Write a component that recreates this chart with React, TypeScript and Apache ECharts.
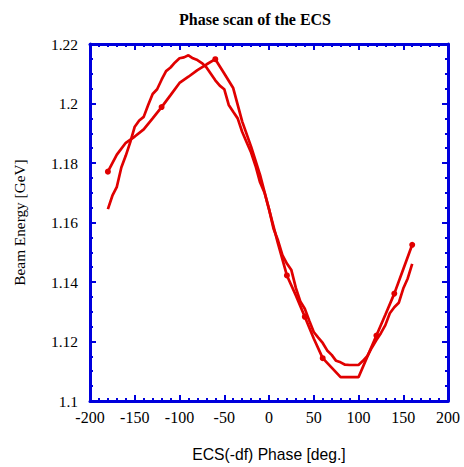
import React, { useEffect, useRef } from "react";
import * as echarts from "echarts";

const titleText = "Phase scan of the ECS";
const xName = "ECS(-df) Phase [deg.]";
const yName = "Beam Energy [GeV]";

// Scan A (smoother, with dots)
const phaseA = [-180, -170, -160, -150, -140, -130, -120, -110, -100, -90, -80, -70, -60, -50, -40, -30, -20, -10, 0, 10, 20, 30, 40, 50, 60, 70, 80, 90, 100, 110, 120, 130, 140, 150, 160];
const energyA = [1.1771, 1.1828, 1.1868, 1.1889, 1.1913, 1.195, 1.1988, 1.2028, 1.2069, 1.209, 1.2112, 1.2131, 1.2149, 1.2101, 1.2052, 1.194, 1.1855, 1.176, 1.1645, 1.153, 1.1422, 1.1355, 1.1283, 1.121, 1.1144, 1.1112, 1.108, 1.108, 1.108, 1.115, 1.122, 1.129, 1.1361, 1.1443, 1.1525];
const markedPhases = [-180, -120, -60, 20, 40, 60, 120, 140, 160];

// Scan B (finer steps)
const phaseB = [-180, -175, -170, -165, -160, -155, -150, -145, -140, -135, -130, -125, -120, -115, -110, -105, -100, -95, -90, -85, -80, -75, -70, -65, -60, -55, -50, -45, -40, -35, -30, -25, -20, -15, -10, -5, 0, 5, 10, 15, 20, 25, 30, 35, 40, 45, 50, 55, 60, 65, 70, 75, 80, 85, 90, 95, 100, 105, 110, 115, 120, 125, 130, 135, 140, 145, 150, 155, 160];
const energyB = [1.1645, 1.169, 1.172, 1.1785, 1.1825, 1.187, 1.1922, 1.1943, 1.1955, 1.1995, 1.2032, 1.2048, 1.208, 1.2109, 1.2121, 1.2138, 1.2152, 1.2155, 1.2162, 1.2152, 1.2146, 1.2136, 1.2122, 1.21, 1.2078, 1.206, 1.2048, 1.1995, 1.1972, 1.195, 1.1905, 1.187, 1.1835, 1.179, 1.1735, 1.17, 1.1645, 1.158, 1.154, 1.149, 1.1462, 1.144, 1.138, 1.1335, 1.131, 1.127, 1.1232, 1.1213, 1.1195, 1.117, 1.1155, 1.1135, 1.113, 1.1122, 1.1121, 1.1121, 1.1121, 1.1135, 1.1152, 1.118, 1.1205, 1.1228, 1.1255, 1.1295, 1.1315, 1.133, 1.1378, 1.1412, 1.1461];

const BLUE = "#0000dd";
const RED = "#e00000";
const SERIF = "'Liberation Serif', 'Times New Roman', serif";
const SANS = "'Liberation Sans', Arial, sans-serif";

export default function App() {
  const ref = useRef<HTMLDivElement>(null);
  useEffect(() => {
    if (!ref.current) return;
    const chart = echarts.init(ref.current, null, { renderer: "svg" });
    const axisCommon = {
      axisLine: { show: true, onZero: false, lineStyle: { color: BLUE, width: 3 } },
      axisTick: { show: true, inside: true, length: 6, lineStyle: { color: BLUE, width: 2 } },
      minorTick: { show: true, length: 3, lineStyle: { color: BLUE, width: 2 } },
      splitLine: { show: false },
    };
    const fmtY = (v: number) => String(+v.toFixed(2));
    chart.setOption({
      animation: false,
      title: {
        text: titleText,
        left: 174,
        top: 6,
        textStyle: { fontFamily: SERIF, fontWeight: "bold", fontSize: 16, color: "#000" },
      },
      grid: { left: 90, right: 16, top: 44, bottom: 64 },
      xAxis: [
        {
          type: "value",
          min: -200,
          max: 200,
          interval: 50,
          position: "bottom",
          name: xName,
          nameLocation: "middle",
          nameGap: 45,
          nameTextStyle: { fontFamily: SANS, fontSize: 15.7, color: "#000" },
          axisLabel: { margin: 8, fontFamily: SERIF, fontSize: 16, color: "#000" },
          minorTick: { ...axisCommon.minorTick, splitNumber: 5 },
          axisLine: axisCommon.axisLine,
          axisTick: axisCommon.axisTick,
          splitLine: axisCommon.splitLine,
        },
        {
          type: "value",
          min: -200,
          max: 200,
          interval: 50,
          position: "top",
          axisLabel: { show: false },
          minorTick: { ...axisCommon.minorTick, splitNumber: 5 },
          axisLine: axisCommon.axisLine,
          axisTick: axisCommon.axisTick,
          splitLine: axisCommon.splitLine,
        },
      ],
      yAxis: [
        {
          type: "value",
          min: 1.1,
          max: 1.22,
          interval: 0.02,
          position: "left",
          name: yName,
          nameLocation: "middle",
          nameGap: 63,
          nameRotate: 90,
          nameTextStyle: { fontFamily: SERIF, fontSize: 15.3, color: "#000" },
          axisLabel: { margin: 12, fontFamily: SERIF, fontSize: 15.5, color: "#000", formatter: fmtY },
          minorTick: { ...axisCommon.minorTick, splitNumber: 4 },
          axisLine: axisCommon.axisLine,
          axisTick: axisCommon.axisTick,
          splitLine: axisCommon.splitLine,
        },
        {
          type: "value",
          min: 1.1,
          max: 1.22,
          interval: 0.02,
          position: "right",
          axisLabel: { show: false },
          minorTick: { ...axisCommon.minorTick, splitNumber: 4 },
          axisLine: axisCommon.axisLine,
          axisTick: axisCommon.axisTick,
          splitLine: axisCommon.splitLine,
        },
      ],
      series: [
        {
          type: "line",
          xAxisIndex: 0,
          yAxisIndex: 0,
          data: phaseA.map((p, i) => [p, energyA[i]]),
          lineStyle: { color: RED, width: 2.7 },
          itemStyle: { color: RED, borderWidth: 0 },
          symbol: "circle",
          showSymbol: true,
          showAllSymbol: true,
          symbolSize: (v: number[]) => (markedPhases.includes(v[0]) ? 6 : 0),
          silent: true,
          z: 3,
        },
        {
          type: "line",
          xAxisIndex: 0,
          yAxisIndex: 0,
          data: phaseB.map((p, i) => [p, energyB[i]]),
          lineStyle: { color: RED, width: 2.7 },
          itemStyle: { color: RED },
          showSymbol: false,
          silent: true,
          z: 3,
        },
      ],
    });
    return () => chart.dispose();
  }, []);
  return <div ref={ref} style={{ width: 464, height: 467, position: "absolute", left: 0, top: 0 }} />;
}
